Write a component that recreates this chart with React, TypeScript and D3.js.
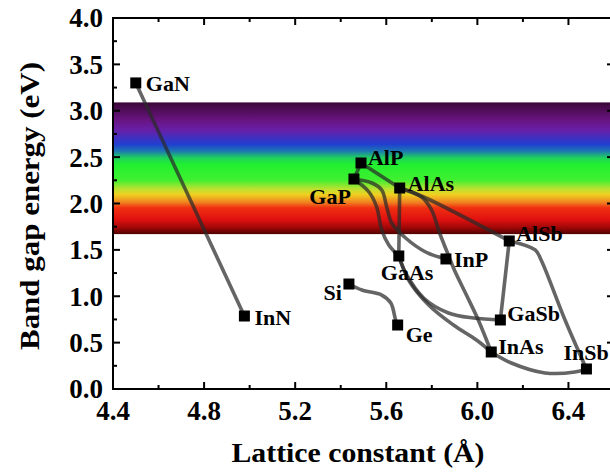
import React from "react";
import * as d3 from "d3";

// ---- data ----
const materials = ["GaN", "InN", "AlP", "GaP", "AlAs", "AlSb", "GaAs", "InP", "Si", "GaSb", "Ge", "InAs", "InSb"];
const latticeConstants = [4.50, 4.977, 5.489, 5.458, 5.659, 6.140, 5.655, 5.862, 5.436, 6.101, 5.650, 6.061, 6.479];
const bandGaps = [3.30, 0.787, 2.437, 2.264, 2.167, 1.596, 1.434, 1.402, 1.132, 0.744, 0.690, 0.399, 0.216];

// alloy curves: waypoints [lattice constant (Å), band gap (eV)]
const curveGaNInN = [[4.50, 3.30], [4.977, 0.787]];
const curveAlPAlAs = [[5.489, 2.437], [5.659, 2.167]];
const curveAlPGaP = [[5.489, 2.437], [5.458, 2.264]];
const curveAlAsAlSb = [[5.659, 2.167], [5.764, 2.070], [6.140, 1.596]];
const curveAlAsGaAs = [[5.659, 2.167], [5.655, 1.434]];
const curveAlAsInAs = [[5.659, 2.167], [5.755, 2.070], [5.799, 1.930], [5.834, 1.682], [5.869, 1.466], [5.899, 1.283], [5.952, 1.013], [6.004, 0.744], [6.061, 0.399]];
const curveGaPGaAs = [[5.458, 2.264], [5.524, 2.124], [5.558, 1.962], [5.580, 1.714], [5.611, 1.553], [5.655, 1.434]];
const curveGaPInP = [[5.458, 2.264], [5.537, 2.221], [5.580, 2.146], [5.602, 1.962], [5.624, 1.790], [5.685, 1.628], [5.773, 1.477], [5.862, 1.402]];
const curveGaAsGaSb = [[5.655, 1.434], [5.690, 1.229], [5.764, 0.981], [5.873, 0.819], [5.983, 0.765], [6.101, 0.744]];
const curveGaAsInAs = [[5.655, 1.434], [5.698, 1.175], [5.786, 0.906], [5.895, 0.690], [5.996, 0.528], [6.061, 0.399]];
const curveAlSbGaSb = [[6.140, 1.596], [6.101, 0.744]];
const curveAlSbInSb = [[6.140, 1.596], [6.254, 1.499], [6.280, 1.391], [6.385, 0.744], [6.479, 0.216]];
const curveInAsInSb = [[6.061, 0.399], [6.149, 0.280], [6.297, 0.173], [6.428, 0.183], [6.479, 0.216]];
const curveSiGe = [[5.436, 1.132], [5.493, 1.067], [5.580, 1.013], [5.620, 0.927], [5.641, 0.744], [5.650, 0.690]];
const curves = [curveGaNInN, curveAlPAlAs, curveAlPGaP, curveAlAsAlSb, curveAlAsGaAs, curveAlAsInAs, curveGaPGaAs, curveGaPInP, curveGaAsGaSb, curveGaAsInAs, curveAlSbGaSb, curveAlSbInSb, curveInAsInSb, curveSiGe];

// visible spectrum band (eV)
const bandTop = 3.09;
const bandBottom = 1.67;
const spectrumStops: [number, string][] = [
  [0.0, "#3a0838"],
  [0.05, "#4c0c52"],
  [0.13, "#681480"],
  [0.21, "#6820a8"],
  [0.27, "#4030c0"],
  [0.32, "#2040d0"],
  [0.37, "#1c78b0"],
  [0.42, "#20d060"],
  [0.47, "#20f030"],
  [0.59, "#40f030"],
  [0.66, "#c0e030"],
  [0.70, "#f0d020"],
  [0.76, "#f08020"],
  [0.80, "#f03010"],
  [0.89, "#e01010"],
  [0.95, "#a00808"],
  [1.0, "#500000"],
];

const xTicks = [4.4, 4.8, 5.2, 5.6, 6.0, 6.4];
const xMinorTicks = [4.6, 5.0, 5.4, 5.8, 6.2, 6.6];
const yTicks = [0.0, 0.5, 1.0, 1.5, 2.0, 2.5, 3.0, 3.5, 4.0];
const yMinorTicks = [0.25, 0.75, 1.25, 1.75, 2.25, 2.75, 3.25, 3.75];

// label offsets (px) relative to marker: [dx, dy, anchor]
const labelOffsets: Record<string, [number, number, string]> = {
  GaN: [10, 0, "start"],
  InN: [10, 1, "start"],
  AlP: [7, -6, "start"],
  GaP: [-3, 17, "end"],
  AlAs: [8, -5, "start"],
  AlSb: [7, -8, "start"],
  GaAs: [-18, 16, "start"],
  InP: [8, 0, "start"],
  Si: [-7, 8, "end"],
  GaSb: [7, -7, "start"],
  Ge: [8, 9, "start"],
  InAs: [7, -6, "start"],
  InSb: [-23, -17, "start"],
};

const W = 610, H = 475;
const L = 113, R = 614, T = 18, B = 389;
const FONT = "'Liberation Serif', 'Times New Roman', serif";

export default function App() {
  const x = d3.scaleLinear().domain([4.4, 6.6]).range([L, R]);
  const y = d3.scaleLinear().domain([0, 4]).range([B, T]);
  const line = d3.line<number[]>().x((d) => x(d[0])).y((d) => y(d[1])).curve(d3.curveCatmullRom.alpha(0.5));

  return (
    <svg width={W} height={H} style={{ position: "absolute", left: 0, top: 0, background: "#fff" }} fontFamily={FONT}>
      <defs>
        <linearGradient id="spec" x1="0" y1="0" x2="0" y2="1">
          {spectrumStops.map(([o, c], i) => (
            <stop key={i} offset={o} stopColor={c} />
          ))}
        </linearGradient>
        <clipPath id="plotclip">
          <rect x={L} y={T} width={R - L} height={B - T} />
        </clipPath>
      </defs>
      <rect x={L} y={y(bandTop)} width={R - L} height={y(bandBottom) - y(bandTop)} fill="url(#spec)" />
      <g clipPath="url(#plotclip)">
        {curves.map((c, i) => (
          <path key={i} d={line(c) || ""} fill="none" stroke="#2a2a2a" strokeOpacity={0.72} strokeWidth={3.6} strokeLinejoin="round" strokeLinecap="round" />
        ))}
      </g>
      {materials.map((m, i) => (
        <rect key={m} x={x(latticeConstants[i]) - 5.5} y={y(bandGaps[i]) - 5.5} width={11} height={11} fill="#000" />
      ))}
      {materials.map((m, i) => {
        const [dx, dy, anchor] = labelOffsets[m];
        return (
          <text key={m} x={x(latticeConstants[i]) + dx} y={y(bandGaps[i]) + dy} dy="0.35em" fontSize={22} fontWeight="bold" textAnchor={anchor}>
            {m}
          </text>
        );
      })}
      {/* frame */}
      <rect x={L} y={T} width={R - L} height={B - T} fill="none" stroke="#000" strokeWidth={2} />
      {/* ticks */}
      {xTicks.map((t) => (
        <g key={"xt" + t}>
          <line x1={x(t)} x2={x(t)} y1={B} y2={B - 7} stroke="#000" strokeWidth={2} />
          <line x1={x(t)} x2={x(t)} y1={T} y2={T + 7} stroke="#000" strokeWidth={2} />
          <text x={x(t)} y={B + 31} fontSize={27} fontWeight="bold" textAnchor="middle">
            {t.toFixed(1)}
          </text>
        </g>
      ))}
      {xMinorTicks.map((t) => (
        <g key={"xm" + t}>
          <line x1={x(t)} x2={x(t)} y1={B} y2={B - 4} stroke="#000" strokeWidth={2} />
          <line x1={x(t)} x2={x(t)} y1={T} y2={T + 4} stroke="#000" strokeWidth={2} />
        </g>
      ))}
      {yTicks.map((t) => (
        <g key={"yt" + t}>
          <line x1={L} x2={L + 7} y1={y(t)} y2={y(t)} stroke="#000" strokeWidth={2} />
          <line x1={R} x2={R - 7} y1={y(t)} y2={y(t)} stroke="#000" strokeWidth={2} />
          <text x={103} y={y(t)} dy="0.35em" fontSize={27} fontWeight="bold" textAnchor="end">
            {t.toFixed(1)}
          </text>
        </g>
      ))}
      {yMinorTicks.map((t) => (
        <g key={"ym" + t}>
          <line x1={L} x2={L + 4} y1={y(t)} y2={y(t)} stroke="#000" strokeWidth={2} />
          <line x1={R} x2={R - 4} y1={y(t)} y2={y(t)} stroke="#000" strokeWidth={2} />
        </g>
      ))}
      <text x={358} y={462} fontSize={28} fontWeight="bold" textAnchor="middle" textLength={253} lengthAdjust="spacingAndGlyphs">
        Lattice constant (Å)
      </text>
      <text transform="translate(29,206) rotate(-90)" dy="0.35em" fontSize={28} fontWeight="bold" textAnchor="middle" textLength={288} lengthAdjust="spacingAndGlyphs">
        Band gap energy (eV)
      </text>
    </svg>
  );
}
